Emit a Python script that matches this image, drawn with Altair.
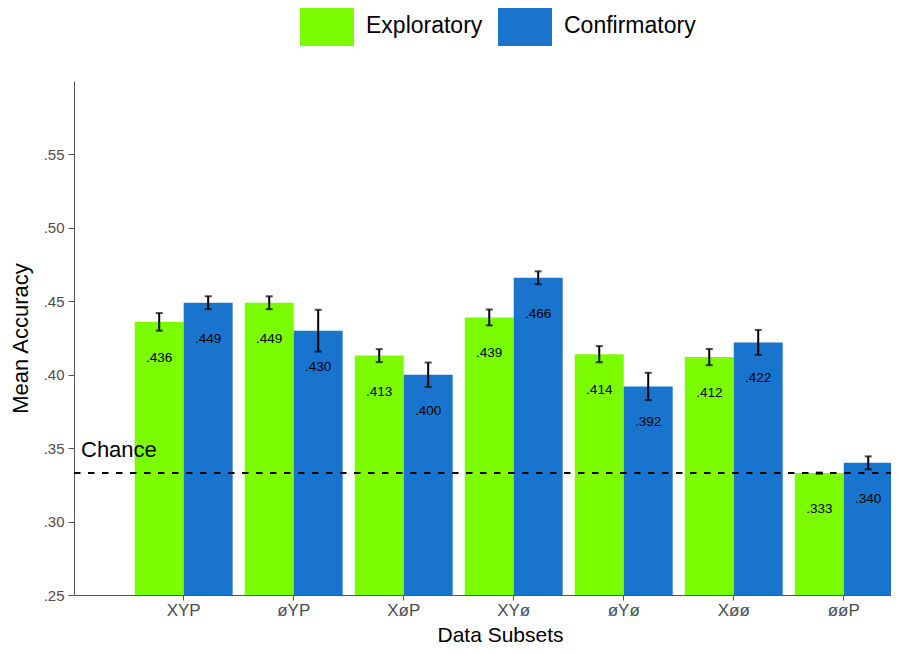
import altair as alt
import pandas as pd

subsets = ["XYP", "øYP", "XøP", "XYø", "øYø", "Xøø", "øøP"]
groups = ["Exploratory", "Confirmatory"]
exploratory = [0.436, 0.449, 0.413, 0.439, 0.414, 0.412, 0.333]
confirmatory = [0.449, 0.430, 0.400, 0.466, 0.392, 0.422, 0.340]
err_exploratory = [0.0060, 0.0044, 0.0044, 0.0054, 0.0055, 0.0055, 0.0004]
err_confirmatory = [0.0044, 0.0142, 0.0083, 0.0044, 0.0093, 0.0085, 0.0044]
chance = 0.333
y_ticks = [0.25, 0.30, 0.35, 0.40, 0.45, 0.50, 0.55]
colors = ["#7CFC00", "#1874CD"]

rows = []
for i, s in enumerate(subsets):
    for g, vals, errs in ((groups[0], exploratory, err_exploratory),
                          (groups[1], confirmatory, err_confirmatory)):
        v = vals[i]
        rows.append({
            "Subset": s,
            "Group": g,
            "Accuracy": v,
            "lo": v - errs[i],
            "hi": v + errs[i],
            "label": format(v, ".3f").lstrip("0"),
        })
df = pd.DataFrame(rows)

FONT = "Liberation Sans"
W, H = 817, 514

x_scale = alt.Scale(range=[0, 824], paddingInner=0.11, paddingOuter=0.3, align=0.92)
x_enc = alt.X(
    "Subset:N",
    sort=subsets,
    scale=x_scale,
    axis=alt.Axis(
        title="Data Subsets",
        labelAngle=0,
        labelFontSize=17,
        labelColor="#4d4d4d",
        labelPadding=2,
        tickSize=5,
        titleFontSize=21,
        titleFontWeight="normal",
        titleColor="#000000",
        titleX=426,
        titleY=46,
        titleBaseline="alphabetic",
    ),
)
x_plain = alt.X("Subset:N", sort=subsets, scale=x_scale)
xoff = alt.XOffset("Group:N", sort=groups, scale=alt.Scale(paddingInner=0, paddingOuter=0))
y_scale = alt.Scale(domain=[0.25, 0.6], zero=False, nice=False)
y_enc = alt.Y(
    "Accuracy:Q",
    scale=y_scale,
    axis=alt.Axis(
        title="Mean Accuracy",
        values=y_ticks,
        labelExpr="replace(format(datum.value, '.2f'), '0.', '.')",
        labelFontSize=15,
        labelColor="#4d4d4d",
        labelPadding=4,
        tickSize=6,
        grid=False,
        titleFontSize=22,
        titleFontWeight="normal",
        titleColor="#000000",
        titleX=-54,
        titleBaseline="middle",
    ),
)

base = alt.Chart(df)

bars = base.mark_bar().encode(
    x=x_enc,
    xOffset=xoff,
    y=y_enc,
    y2=alt.datum(0.25),
    color=alt.Color(
        "Group:N",
        sort=groups,
        scale=alt.Scale(domain=groups, range=colors),
        legend=alt.Legend(
            title=None,
            orient="none",
            direction="horizontal",
            legendX=226,
            legendY=-82,
            symbolType="M-1,-0.74L1,-0.74L1,0.74L-1,0.74Z",
            symbolSize=2916,
            symbolStrokeWidth=0,
            symbolOpacity=1,
            labelFontSize=23,
            labelColor="#000000",
            labelOffset=12,
            columnPadding=15,
            labelFont=FONT,
        ),
    ),
)

err_rule = base.mark_rule(color="black", strokeWidth=2).encode(
    x=x_plain,
    xOffset=xoff,
    y=alt.Y("lo:Q", scale=y_scale),
    y2="hi:Q",
)
cap_lo = base.mark_tick(color="black", thickness=2, size=7).encode(
    x=x_plain,
    xOffset=xoff,
    y=alt.Y("lo:Q", scale=y_scale),
)
cap_hi = base.mark_tick(color="black", thickness=2, size=7).encode(
    x=x_plain,
    xOffset=xoff,
    y=alt.Y("hi:Q", scale=y_scale),
)

labels = base.mark_text(
    fontSize=13.5, color="black", baseline="alphabetic", dy=40, font=FONT
).encode(
    x=x_plain,
    xOffset=xoff,
    y=alt.Y("Accuracy:Q", scale=y_scale),
    text="label:N",
)

chance_line = alt.Chart(pd.DataFrame({"c": [chance]})).mark_rule(
    color="black", strokeWidth=2, strokeDash=[6.5, 7.5]
).encode(
    x=alt.value(0),
    x2=alt.value(830),
    y=alt.Y("c:Q", scale=y_scale),
)

chance_text = alt.Chart(pd.DataFrame({"c": [chance], "t": ["Chance"]})).mark_text(
    fontSize=22, color="black", align="left", baseline="alphabetic", dy=-16, font=FONT
).encode(
    x=alt.value(7),
    y=alt.Y("c:Q", scale=y_scale),
    text="t:N",
)

chart = alt.layer(bars, chance_line, err_rule, cap_lo, cap_hi, labels, chance_text).properties(
    width=W,
    height=H,
    autosize=alt.AutoSizeParams(type="none"),
    padding={"left": 66, "top": 73, "right": 0, "bottom": 51},
).configure_view(stroke=None).configure_axis(
    domainColor="#555555",
    tickColor="#555555",
    domainWidth=1,
    tickWidth=1,
    labelFont=FONT,
    titleFont=FONT,
).configure_text(font=FONT).configure_legend(labelFont=FONT)

chart.save("out.html", embed_options={"renderer": "svg", "actions": False})
